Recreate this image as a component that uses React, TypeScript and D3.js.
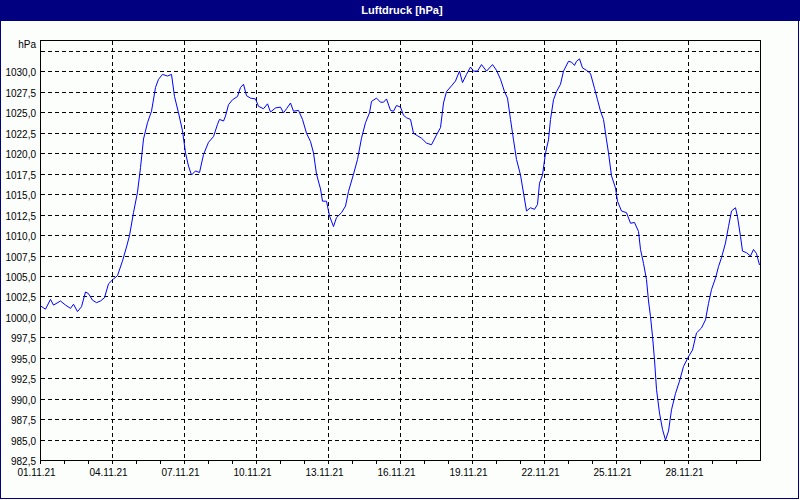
import React from "react";
import { scaleTime, scaleLinear, line as d3line, curveLinear, formatLocale } from "d3";

// hours since 01.11.21 00:00 and pressure in hPa
const hours = [
  0, 5, 10, 13, 20, 25, 30, 33, 37, 41, 45, 48, 52, 56, 60, 64, 68, 73, 77, 82,
  86, 89, 93, 97, 100, 103, 107, 111, 115, 118, 122, 127, 131, 134, 138, 142, 145, 148, 151, 155,
  159, 163, 168, 173, 177, 179, 183, 185, 188, 192, 197, 200, 203, 206, 210, 215, 218, 223, 227, 230,
  235, 240, 243, 246, 250, 253, 258, 262, 266, 270, 273, 276, 280, 282, 286, 289, 293, 296, 301, 305,
  308, 313, 317, 321, 325, 329, 331, 336, 340, 343, 346, 350, 353, 356, 360, 363, 366, 370, 373, 377,
  381, 386, 391, 396, 400, 403, 406, 411, 415, 419, 422, 426, 430, 433, 437, 441, 446, 452, 456, 460,
  464, 467, 470, 473, 476, 480, 483, 486, 490, 494, 497, 499, 502, 505, 508, 510, 513, 516, 520, 523,
  528, 531, 534, 536, 539, 542, 546, 550, 554, 557, 560, 563, 566, 568, 571, 575, 577, 581, 586, 590,
  594, 598, 600, 603, 606, 608, 610, 612, 614, 616, 619, 622, 625, 628, 631, 635, 639, 643, 648, 652,
  656, 661, 665, 668, 671, 675, 678, 681, 685, 688, 691, 695, 697, 700, 702, 706, 710, 713, 716, 719,
];

const pressure = [
  1001.4, 1001.0, 1002.2, 1001.5, 1002.0, 1001.5, 1001.1, 1001.6, 1000.7, 1001.3,
  1003.1, 1002.9, 1002.1, 1001.8, 1002.0, 1002.4, 1004.1, 1004.7, 1005.1, 1006.9,
  1008.6, 1010.0, 1012.8, 1015.3, 1018.3, 1021.8, 1023.8, 1025.2, 1028.1, 1029.1,
  1029.7, 1029.5, 1029.7, 1027.0, 1025.0, 1022.8, 1020.1, 1018.5, 1017.4, 1017.9,
  1017.7, 1019.9, 1021.4, 1022.1, 1023.6, 1024.2, 1024.0, 1024.6, 1026.0, 1026.6,
  1027.0, 1028.1, 1028.5, 1027.1, 1026.8, 1026.7, 1025.8, 1025.5, 1026.1, 1025.1,
  1025.6, 1025.7, 1025.0, 1025.5, 1026.2, 1025.2, 1025.3, 1024.2, 1022.5, 1021.5,
  1020.1, 1017.5, 1015.7, 1014.2, 1014.2, 1012.4, 1011.1, 1012.2, 1012.8, 1013.6,
  1015.4, 1017.5, 1019.3, 1021.9, 1023.8, 1025.0, 1026.4, 1026.8, 1026.3, 1026.3,
  1026.7, 1025.3, 1025.2, 1025.9, 1025.7, 1024.7, 1024.4, 1024.2, 1022.5, 1022.2,
  1021.9, 1021.3, 1021.1, 1022.3, 1023.2, 1026.2, 1027.6, 1028.3, 1028.9, 1030.1,
  1028.7, 1029.7, 1030.6, 1030.1, 1030.1, 1030.9, 1030.1, 1030.9, 1030.2, 1029.1,
  1027.6, 1026.8, 1024.2, 1021.7, 1019.3, 1017.4, 1015.2, 1013.0, 1013.4, 1013.2,
  1013.8, 1016.4, 1017.4, 1020.1, 1021.7, 1024.2, 1026.6, 1027.6, 1028.5, 1030.1,
  1031.3, 1031.2, 1030.8, 1031.3, 1031.6, 1030.5, 1030.2, 1029.8, 1028.0, 1026.6,
  1025.2, 1024.2, 1021.7, 1020.1, 1017.3, 1015.8, 1014.2, 1013.0, 1012.8, 1011.5,
  1011.6, 1010.5, 1008.3, 1006.6, 1004.6, 1002.0, 1000.1, 997.7, 994.8, 991.2,
  988.3, 986.3, 985.0, 986.1, 988.7, 990.7, 992.2, 994.0, 995.2, 996.0,
  998.1, 998.7, 999.7, 1001.7, 1003.4, 1004.8, 1006.2, 1007.3, 1009.1, 1011.1,
  1013.0, 1013.4, 1012.3, 1009.9, 1008.1, 1007.9, 1007.5, 1008.3, 1007.8, 1006.4,
];

const dayLabels = [
  "01.11.21", "04.11.21", "07.11.21", "10.11.21", "13.11.21",
  "16.11.21", "19.11.21", "22.11.21", "25.11.21", "28.11.21",
];

const yTicks = [
  982.5, 985, 987.5, 990, 992.5, 995, 997.5, 1000, 1002.5, 1005, 1007.5, 1010,
  1012.5, 1015, 1017.5, 1020, 1022.5, 1025, 1027.5, 1030, 1032.5,
];

const title = "Luftdruck [hPa]";
const unit = "hPa";

const start = new Date(2021, 10, 1);
const end = new Date(2021, 11, 1);

const data = hours.map((h, i) => ({
  date: new Date(2021, 10, 1, h),
  value: pressure[i],
}));

const parseLabel = (s: string) => {
  const [d, m, y] = s.split(".").map(Number);
  return new Date(2000 + y, m - 1, d);
};

const fmt = formatLocale({ decimal: ",", thousands: ".", grouping: [3], currency: ["", ""] }).format(".1f");

const font = "'Liberation Sans', Arial, sans-serif";
const navy = "#000080";

export default function App() {
  const left = 40.5;
  const right = 760.5;
  const top = 40.5;
  const bottom = 460.5;

  const x = scaleTime().domain([start, end]).range([left, right]);
  const y = scaleLinear().domain([982.5, 1032.5]).range([bottom, 51.5]);

  const crisp = (v: number) => Math.round(v - 0.5) + 0.5;

  const path = d3line<(typeof data)[number]>()
    .x((d) => x(d.date))
    .y((d) => y(d.value))
    .curve(curveLinear)(data) ?? "";

  // a small tick each day along the bottom axis
  const dayTicks = x.ticks(30).filter((d) => d < end);

  return (
    <div style={{ position: "absolute", left: 0, top: 0 }}>
      <svg width={800} height={500} style={{ display: "block" }}>
        <rect x={0} y={0} width={800} height={500} fill="#fcfefc" />
        <rect x={0} y={0} width={800} height={21} fill={navy} />
        <rect x={0.5} y={0.5} width={798} height={498} fill="none" stroke={navy} />
        <text
          x={402}
          y={14}
          fill="#ffffff"
          fontFamily={font}
          fontWeight="bold"
          fontSize={11}
          textAnchor="middle"
        >
          {title}
        </text>

        {/* horizontal grid */}
        {yTicks.slice(1).map((v) => (
          <line
            key={v}
            x1={left}
            x2={right}
            y1={crisp(y(v))}
            y2={crisp(y(v))}
            stroke="#000"
            strokeDasharray="4,3"
            shapeRendering="crispEdges"
          />
        ))}

        {/* vertical grid */}
        {dayLabels.slice(1).map((s) => (
          <line
            key={s}
            x1={crisp(x(parseLabel(s)))}
            x2={crisp(x(parseLabel(s)))}
            y1={top}
            y2={bottom}
            stroke="#000"
            strokeDasharray="4,3"
            shapeRendering="crispEdges"
          />
        ))}

        {/* frame */}
        <rect
          x={left}
          y={top}
          width={right - left}
          height={bottom - top}
          fill="none"
          stroke="#000"
          shapeRendering="crispEdges"
        />

        {dayTicks.map((d, i) => (
          <line
            key={i}
            x1={crisp(x(d))}
            x2={crisp(x(d))}
            y1={bottom}
            y2={bottom + 3}
            stroke="#000"
            shapeRendering="crispEdges"
          />
        ))}

        {/* y labels */}
        {yTicks.slice(0, -1).map((v) => (
          <text
            key={v}
            x={36}
            y={crisp(y(v)) + 4}
            fontFamily={font}
            fontSize={10}
            textAnchor="end"
            fill="#000"
          >
            {fmt(v)}
          </text>
        ))}
        <text x={36} y={48} fontFamily={font} fontSize={10} textAnchor="end" fill="#000">
          {unit}
        </text>

        {/* x labels */}
        {dayLabels.map((s) => (
          <text
            key={s}
            x={x(parseLabel(s)) - 4}
            y={476}
            fontFamily={font}
            fontSize={10}
            textAnchor="middle"
            fill="#000"
          >
            {s}
          </text>
        ))}

        <path d={path} fill="none" stroke="#0000ff" strokeWidth={1} />
      </svg>
    </div>
  );
}
